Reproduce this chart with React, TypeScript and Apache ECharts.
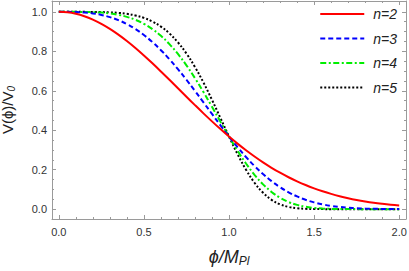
import React, { useEffect, useRef } from "react";
import * as echarts from "echarts";

const xs = [0, 0.05, 0.1, 0.15, 0.2, 0.25, 0.3, 0.35, 0.4, 0.45, 0.5, 0.55, 0.6, 0.65, 0.7, 0.75, 0.8, 0.85, 0.9, 0.95, 1.0, 1.05, 1.1, 1.15, 1.2, 1.25, 1.3, 1.35, 1.4, 1.45, 1.5, 1.55, 1.6, 1.65, 1.7, 1.75, 1.8, 1.85, 1.9, 1.95, 2.0];

const n2 = [1, 0.9975, 0.99, 0.9778, 0.9608, 0.9394, 0.9139, 0.8847, 0.8521, 0.8167, 0.7788, 0.739, 0.6977, 0.6554, 0.6126, 0.5698, 0.5273, 0.4855, 0.4449, 0.4056, 0.3679, 0.332, 0.2982, 0.2665, 0.2369, 0.2096, 0.1845, 0.1616, 0.1409, 0.1221, 0.1054, 0.0905, 0.0773, 0.0657, 0.0556, 0.0468, 0.0392, 0.0326, 0.0271, 0.0223, 0.0183];
const n3 = [1, 0.9999, 0.999, 0.9966, 0.992, 0.9845, 0.9734, 0.958, 0.938, 0.9129, 0.8825, 0.8467, 0.8057, 0.7599, 0.7096, 0.6558, 0.5993, 0.5411, 0.4824, 0.4243, 0.3679, 0.3143, 0.2642, 0.2185, 0.1776, 0.1418, 0.1111, 0.0854, 0.0643, 0.0474, 0.0342, 0.0241, 0.0166, 0.0112, 0.0074, 0.0047, 0.0029, 0.0018, 0.001, 0.0006, 0.0003];
const n4 = [1, 1, 0.9999, 0.9995, 0.9984, 0.9961, 0.9919, 0.9851, 0.9747, 0.9598, 0.9394, 0.9126, 0.8784, 0.8365, 0.7866, 0.7288, 0.6639, 0.5933, 0.5188, 0.4429, 0.3679, 0.2965, 0.2313, 0.174, 0.1257, 0.0871, 0.0575, 0.0361, 0.0215, 0.012, 0.0063, 0.0031, 0.0014, 0.0006, 0.0002, 0.0001, 0, 0, 0, 0, 0];
const n5 = [1, 1, 1, 0.9999, 0.9997, 0.999, 0.9976, 0.9948, 0.9898, 0.9817, 0.9692, 0.9509, 0.9252, 0.8904, 0.8453, 0.7888, 0.7206, 0.6417, 0.5541, 0.4613, 0.3679, 0.2791, 0.1998, 0.1338, 0.0831, 0.0473, 0.0244, 0.0113, 0.0046, 0.0016, 0.0005, 0.0001, 0, 0, 0, 0, 0, 0, 0, 0, 0];

const seriesNames = ["n=2", "n=3", "n=4", "n=5"];
const xMajor = [0, 0.5, 1, 1.5, 2];
const xMinor = [0.1, 0.2, 0.3, 0.4, 0.6, 0.7, 0.8, 0.9, 1.1, 1.2, 1.3, 1.4, 1.6, 1.7, 1.8, 1.9];
const yMajor = [0, 0.2, 0.4, 0.6, 0.8, 1.0];
const yMinor = [0.05, 0.1, 0.15, 0.25, 0.3, 0.35, 0.45, 0.5, 0.55, 0.65, 0.7, 0.75, 0.85, 0.9, 0.95];

const FRAME = "#9a9a9a";
const LABEL = "#333333";
const FONT = "Liberation Sans, Arial, sans-serif";

export default function App() {
  const ref = useRef<HTMLDivElement>(null);
  useEffect(() => {
    document.body.style.margin = "0";
    const chart = echarts.init(ref.current!, null, { renderer: "svg" });
    const xRange = { min: -0.04, max: 2.04 };
    const yRange = { min: -0.05, max: 1.055 };
    const tickStyle = { color: FRAME, width: 1 };
    const mkX = (pos: string, values: number[], len: number, labels: boolean, line: boolean, extra: any = {}) => ({
      type: "value",
      position: pos,
      ...xRange,
      axisLine: { show: line, onZero: false, lineStyle: { color: FRAME, width: 1 } },
      axisTick: { show: true, inside: true, length: len, customValues: values, lineStyle: tickStyle },
      axisLabel: labels
        ? { show: true, customValues: values, formatter: (v: number) => v.toFixed(1), color: LABEL, fontSize: 11, fontFamily: FONT, margin: 7 }
        : { show: false },
      splitLine: { show: false },
      ...extra,
    });
    const mkY = (pos: string, values: number[], len: number, labels: boolean, line: boolean, extra: any = {}) => ({
      type: "value",
      position: pos,
      ...yRange,
      axisLine: { show: line, onZero: false, lineStyle: { color: FRAME, width: 1 } },
      axisTick: { show: true, inside: true, length: len, customValues: values, lineStyle: tickStyle },
      axisLabel: labels
        ? { show: true, customValues: values, formatter: (v: number) => v.toFixed(1), color: LABEL, fontSize: 11, fontFamily: FONT, margin: 5 }
        : { show: false },
      splitLine: { show: false },
      ...extra,
    });
    const colors = ["#ff0000", "#0000ff", "#00ee00", "#000000"];
    const dashes: any[] = ["solid", [5, 3], [6, 2.5, 2, 2.5], [2, 2]];
    const vals = [n2, n3, n4, n5];
    chart.setOption({
      animation: false,
      grid: { left: 52, right: 3, top: 1, bottom: 52, containLabel: false, outerBoundsMode: "none" },
      legend: {
        orient: "vertical",
        right: 7,
        top: 2,
        itemWidth: 44,
        itemHeight: 14,
        itemGap: 10.5,
        data: seriesNames,
        itemStyle: { color: "rgba(0,0,0,0)", borderColor: "rgba(0,0,0,0)", borderWidth: 0, opacity: 0 },
        textStyle: { fontStyle: "italic", fontSize: 14, fontFamily: FONT, color: "#222", padding: [0, 0, 0, 4] },
      },
      xAxis: [
        mkX("bottom", xMajor, 4, true, true, {
          name: "ϕ/M{s|Pl}",
          nameLocation: "middle",
          nameGap: 27,
          nameTextStyle: {
            rich: {
              s: { fontStyle: "italic", fontSize: 12, fontFamily: FONT, color: "#222", padding: [9, 0, 0, 0] },
            },
            fontStyle: "italic",
            fontSize: 18,
            fontFamily: FONT,
            color: "#222",
          },
        }),
        mkX("bottom", xMinor, 2, false, false),
        mkX("top", xMajor, 4, false, true),
        mkX("top", xMinor, 2, false, false),
      ],
      yAxis: [
        mkY("left", yMajor, 4, true, true, {
          name: "V(ϕ)/V{s|0}",
          nameLocation: "middle",
          nameGap: 36,
          nameRotate: 90,
          nameTextStyle: {
            rich: {
              s: { fontStyle: "italic", fontSize: 10, fontFamily: FONT, color: "#222", padding: [8, 0, 0, 0] },
            },
            fontSize: 15,
            fontFamily: FONT,
            color: "#222",
          },
        }),
        mkY("left", yMinor, 2, false, false),
        mkY("right", yMajor, 4, false, true),
        mkY("right", yMinor, 2, false, false),
      ],
      series: seriesNames.map((name, k) => ({
        name,
        type: "line",
        xAxisIndex: 0,
        yAxisIndex: 0,
        data: xs.map((x, i) => [x, vals[k][i]]),
        showSymbol: false,
        symbol: "none",
        smooth: 0.4,
        lineStyle: { color: colors[k], width: 2, type: dashes[k] },
        itemStyle: { color: colors[k] },
        z: 10 - k,
      })),
    });
    return () => chart.dispose();
  }, []);
  return <div ref={ref} style={{ width: 409, height: 271, position: "absolute", left: 0, top: 0 }} />;
}
